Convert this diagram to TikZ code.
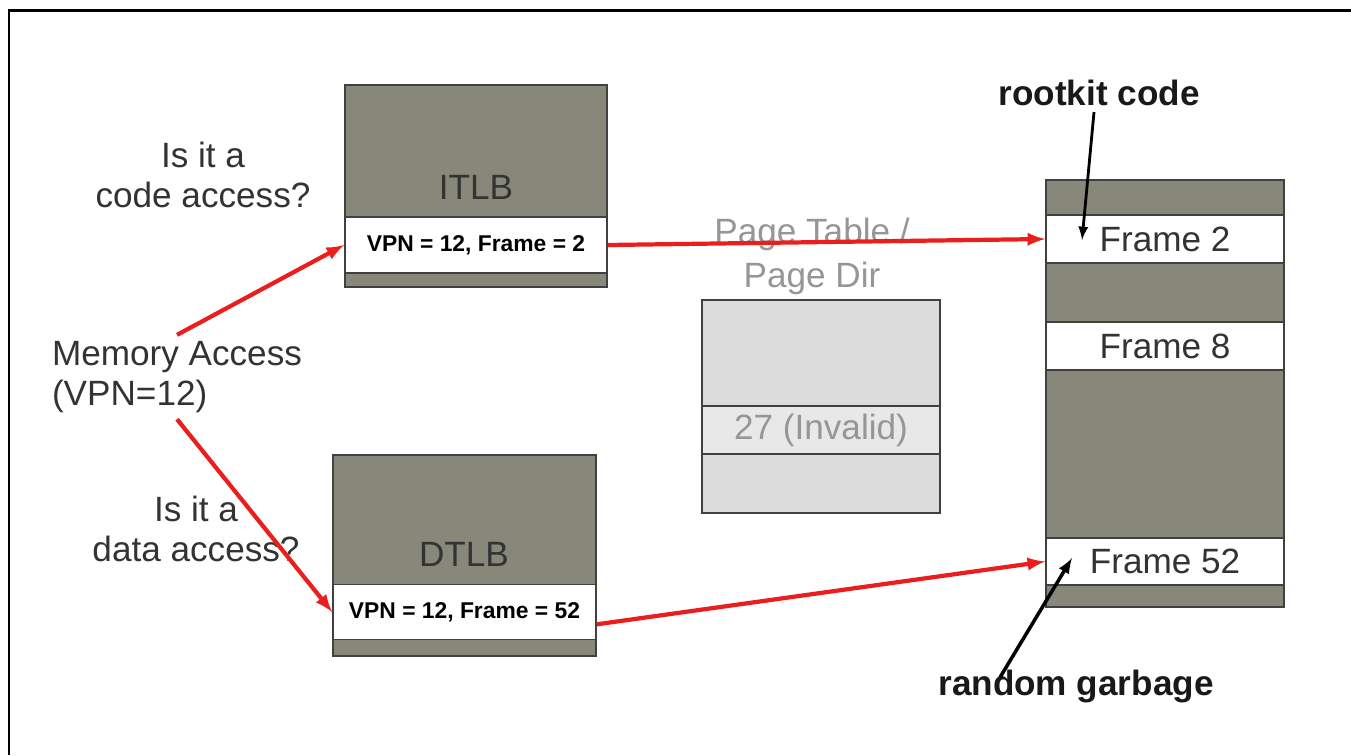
\documentclass[tikz,border=0pt]{standalone}
\usepackage{fontspec}
\setmainfont{Liberation Sans}
\usetikzlibrary{arrows}
\definecolor{tlbgray}{RGB}{135,135,122}
\definecolor{ptfill}{RGB}{220,220,220}
\definecolor{ptrow}{RGB}{232,232,232}
\definecolor{pttext}{RGB}{150,150,150}
\definecolor{arrowred}{RGB}{235,30,30}

\begin{document}
\begin{tikzpicture}[x=0.02cm, y=-0.02cm,
    lbl/.style={font=\fontsize{20}{23}\selectfont, text=black!80, align=center},
    boldlbl/.style={font=\fontsize{20}{23}\selectfont\bfseries, text=black!90},
    graybox/.style={draw=black!75, line width=1pt, fill=tlbgray},
    entry/.style={draw=black!75, line width=1pt, fill=white, inner sep=0pt,
      minimum width=5.24cm},
    vpn/.style={font=\fontsize{13}{15}\selectfont\bfseries},
    redarrow/.style={-latex, draw=arrowred, line width=2.4pt},
    blkarrow/.style={-latex, line width=2pt}]
  \useasboundingbox (0,0) rectangle (1351,755);
  \draw [line width=1.7pt] (9,755) -- (9,10) -- (1351,10);

  % questions and the access
  \node [lbl] (codeq) at (203,175) {Is it a\\code access?};
  \node [lbl, align=left] (memacc) at (177,377) {Memory Access\\(VPN=12)};
  \node [lbl] (dataq) at (196,529) {Is it a\\data access?};

  % ITLB
  \draw [graybox] (345,85) rectangle (607,287);
  \node [lbl] (itlb) at (476,187) {ITLB};
  \node [entry, minimum height=1.12cm, vpn] (itlbentry) at (476,245) {VPN = 12, Frame = 2};

  % DTLB
  \draw [graybox] (333,455) rectangle (596,656);
  \node [lbl] (dtlb) at (464,554) {DTLB};
  \node [entry, minimum width=5.26cm, minimum height=1.1cm, vpn] (dtlbentry) at (464.5,612) {VPN = 12, Frame = 52};

  % page table
  \node [lbl, text=pttext, font=\fontsize{20}{25}\selectfont] (pttitle) at (812,256) {Page Table /\\Page Dir};
  \draw [draw=black!75, line width=1pt, fill=ptfill] (702,300) rectangle (940,513);
  \node [entry, fill=ptrow, minimum width=4.76cm, minimum height=0.96cm, lbl, text=pttext] (ptinvalid) at (821,430) {27 (Invalid)};

  % physical memory
  \draw [graybox] (1046,180) rectangle (1284,607);
  \node [entry, minimum width=4.76cm, minimum height=0.96cm, lbl] (frame2) at (1165,239) {Frame 2};
  \node [entry, minimum width=4.76cm, minimum height=0.96cm, lbl] (frame8) at (1165,346) {Frame 8};
  \node [entry, minimum width=4.76cm, minimum height=0.94cm, lbl] (frame52) at (1165,561.5) {Frame 52};

  \node [boldlbl] (rootkit) at (1099,93) {rootkit code};
  \node [boldlbl] (garbage) at (1076,686) {random garbage};
  \coordinate (rktip) at (1082,240);
  \coordinate (garbtip) at (1072,558);

  % arrows
  \draw [redarrow] (memacc.north) -- (itlbentry.west);
  \draw [redarrow] (memacc.south) -- (dtlbentry.west);
  \draw [redarrow] (itlbentry.east) -- (frame2.west);
  \draw [redarrow] ([yshift=-7]dtlbentry.east) -- (frame52.west);
  \draw [blkarrow, line width=1.6pt] (rootkit.south) ++(-5,0) -- (rktip);
  \draw [blkarrow] (garbage.north) ++(-76,14) -- (garbtip);
\end{tikzpicture}
\end{document}
